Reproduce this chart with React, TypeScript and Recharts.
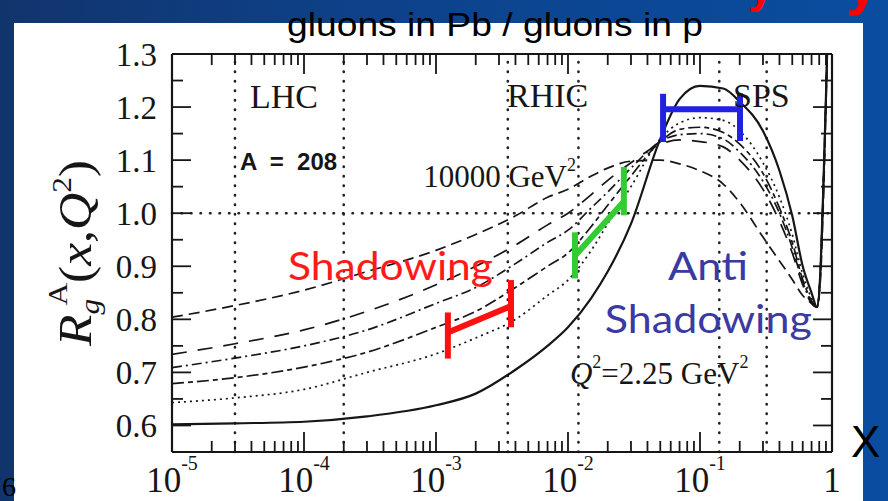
import React from "react";
import { LineChart, Line, XAxis, YAxis, ReferenceLine, ReferenceDot } from "recharts";

// Bjorken x sample points (log axis 1e-5 .. 1)
const xValues = [1e-5, 3e-5, 1e-4, 3e-4, 1e-3, 2e-3, 4e-3, 7e-3, 0.01, 0.015, 0.02, 0.03, 0.05, 0.07, 0.1, 0.15, 0.2, 0.3, 0.4, 0.5, 0.6, 0.7, 0.77, 0.82, 0.86, 0.9, 0.94];

// R_g^A(x,Q^2) for Pb, from Q^2 = 2.25 GeV^2 (solid) up to 10000 GeV^2 (dashed)
const rSolid = [0.602, 0.604, 0.607, 0.617, 0.638, 0.66, 0.705, 0.75, 0.785, 0.84, 0.89, 0.98, 1.14, 1.215, 1.24, 1.235, 1.21, 1.155, 1.08, 0.995, 0.9, 0.85, 0.823, 0.9, 1.05, 1.22, 1.4];
const rDotted = [0.643, 0.652, 0.668, 0.7, 0.735, 0.765, 0.8, 0.845, 0.874, 0.93, 0.98, 1.05, 1.14, 1.17, 1.18, 1.175, 1.155, 1.095, 1.03, 0.96, 0.885, 0.84, 0.823, 0.9, 1.05, 1.22, 1.4];
const rLongShort = [0.679, 0.69, 0.71, 0.738, 0.785, 0.815, 0.86, 0.9, 0.925, 0.975, 1.015, 1.07, 1.135, 1.158, 1.162, 1.152, 1.13, 1.075, 1.01, 0.945, 0.875, 0.835, 0.823, 0.9, 1.05, 1.22, 1.4];
const rDashDot = [0.709, 0.727, 0.75, 0.78, 0.83, 0.86, 0.905, 0.945, 0.968, 1.01, 1.04, 1.085, 1.135, 1.148, 1.15, 1.14, 1.115, 1.06, 1.0, 0.935, 0.87, 0.832, 0.823, 0.9, 1.05, 1.22, 1.4];
const rLongDash = [0.734, 0.754, 0.78, 0.815, 0.865, 0.9, 0.94, 0.978, 1.0, 1.035, 1.062, 1.095, 1.13, 1.138, 1.135, 1.125, 1.1, 1.045, 0.985, 0.925, 0.865, 0.83, 0.823, 0.9, 1.05, 1.22, 1.4];
const rDashed = [0.804, 0.826, 0.855, 0.89, 0.93, 0.96, 0.995, 1.03, 1.045, 1.07, 1.085, 1.098, 1.1, 1.093, 1.08, 1.055, 1.02, 0.955, 0.91, 0.875, 0.845, 0.83, 0.823, 0.88, 1.02, 1.2, 1.4];

const decades = [1e-5, 1e-4, 1e-3, 1e-2, 1e-1, 1];
const yTicks = [0.55, 0.6, 0.65, 0.7, 0.75, 0.8, 0.85, 0.9, 0.95, 1.0, 1.05, 1.1, 1.15, 1.2, 1.25, 1.3];
const regionBounds = [3e-5, 2e-4, 3.5e-3, 0.012, 0.14, 0.32];

// hand-drawn brackets on the slide: [x1, y1, x2, y2]
const redBracket = [[1.23e-3, 0.726, 1.23e-3, 0.813], [3.7e-3, 0.785, 3.7e-3, 0.874], [1.23e-3, 0.775, 3.7e-3, 0.825]];
const greenBracket = [[0.0113, 0.877, 0.0113, 0.964], [0.0265, 0.996, 0.0265, 1.087], [0.0113, 0.92, 0.0265, 1.022]];
const blueBracket = [[0.0525, 1.134, 0.0525, 1.225], [0.201, 1.136, 0.201, 1.226], [0.0525, 1.196, 0.201, 1.196]];

const xTicks = decades.slice(0, -1).flatMap((d) => [1, 2, 3, 4, 5, 6, 7, 8, 9].map((m) => d * m)).concat([1]);

const rows = xValues.map((x, i) => ({
  x,
  solid: rSolid[i],
  dotted: rDotted[i],
  longShort: rLongShort[i],
  dashDot: rDashDot[i],
  longDash: rLongDash[i],
  dashed: rDashed[i],
}));

const INK = "#161616";
const SERIF = "'Liberation Serif', 'Times New Roman', serif";
const SANS = "'Liberation Sans', Arial, sans-serif";
const COMIC = "'Comic Sans MS', Lato, sans-serif";

const isDecade = (v: number) => Math.abs(Math.log10(v) - Math.round(Math.log10(v))) < 1e-6;
const isTenth = (v: number) => Math.abs(v * 10 - Math.round(v * 10)) < 1e-6;

function BottomTick({ x, y, payload }: any) {
  const v = payload.value;
  const major = isDecade(v);
  const e = Math.round(Math.log10(v));
  return (
    <g>
      <line x1={x} x2={x} y1={y} y2={y - (major ? 20 : 11)} stroke={INK} strokeWidth={1.8} />
      {major && (
        <text x={x} y={y + 40} textAnchor="middle" fontFamily={SERIF} fontSize={35} fill={INK}>
          {e === 0 ? "1" : "10"}
          {e !== 0 && (
            <tspan fontSize={20} dy={-22}>
              {e}
            </tspan>
          )}
        </text>
      )}
    </g>
  );
}

function TopTick({ x, y, payload }: any) {
  const major = isDecade(payload.value);
  return <line x1={x} x2={x} y1={y} y2={y + (major ? 20 : 11)} stroke={INK} strokeWidth={1.8} />;
}

function LeftTick({ x, y, payload }: any) {
  const v = payload.value;
  const major = isTenth(v);
  return (
    <g>
      <line x1={x} x2={x + (major ? 19 : 11)} y1={y} y2={y} stroke={INK} strokeWidth={1.8} />
      {major && (
        <text x={x - 15} y={y + 12} textAnchor="end" fontFamily={SERIF} fontSize={33} fill={INK}>
          {v.toFixed(1)}
        </text>
      )}
    </g>
  );
}

function RightTick({ x, y, payload }: any) {
  const major = isTenth(payload.value);
  return <line x1={x} x2={x - (major ? 19 : 11)} y1={y} y2={y} stroke={INK} strokeWidth={1.8} />;
}

function YTitle(props: any) {
  const vb = props.viewBox;
  const cx = vb.x + 19;
  const cy = vb.y + vb.height / 2;
  return (
    <text
      transform={`translate(${cx},${cy}) rotate(-90) scale(1.12,1)`}
      textAnchor="middle"
      fontFamily={SERIF}
      fontSize={46}
      fill={INK}
    >
      <tspan fontStyle="italic">R</tspan>
      <tspan fontStyle="italic" fontSize={28} dy={8}>g</tspan>
      <tspan fontSize={28} dx={-6} dy={-32}>A</tspan>
      <tspan dy={24}>(</tspan>
      <tspan fontStyle="italic">x</tspan>
      <tspan>,</tspan>
      <tspan fontStyle="italic">Q</tspan>
      <tspan fontSize={28} dy={-20}>2</tspan>
      <tspan dy={20}>)</tspan>
    </text>
  );
}

// text placed at a data point (left end of the baseline)
function note(key: string, x: number, y: number, body: (px: number, py: number) => React.ReactNode) {
  return (
    <ReferenceDot
      key={key}
      x={x}
      y={y}
      r={0}
      fill="none"
      stroke="none"
      ifOverflow="visible"
      label={(p: any) => <g>{body(p.viewBox.x, p.viewBox.y)}</g>}
    />
  );
}

function bracket(name: string, segs: number[][], color: string) {
  return segs.map((s, i) => (
    <ReferenceLine
      key={name + i}
      segment={[{ x: s[0], y: s[1] }, { x: s[2], y: s[3] }]}
      stroke={color}
      strokeWidth={6}
      ifOverflow="visible"
    />
  ));
}

export default function App() {
  const dotted = { stroke: "#222", strokeWidth: 2.6, strokeDasharray: "0.5 9", strokeLinecap: "round" as const };
  return (
    <div
      style={{
        position: "absolute",
        left: 0,
        top: 0,
        width: 888,
        height: 501,
        overflow: "hidden",
        background: "linear-gradient(90deg, #12346d 0%, #0d4189 40%, #0a4da0 100%)",
      }}
    >
      <div style={{ position: "absolute", left: 14, top: 23, width: 849, height: 478, background: "#fff" }} />
      <div style={{ position: "absolute", left: 0, top: 0 }}>
        <LineChart width={888} height={501} data={rows} margin={{ top: 44, right: 46, bottom: 9, left: 72 }}>
          <XAxis
            dataKey="x"
            type="number"
            scale="log"
            domain={[1e-5, 1]}
            allowDataOverflow
            ticks={xTicks}
            interval={0}
            height={40}
            tickSize={0}
            tickMargin={0}
            tick={<BottomTick />}
            axisLine={{ stroke: INK, strokeWidth: 2.2 }}
          />
          <XAxis
            xAxisId="top"
            orientation="top"
            dataKey="x"
            type="number"
            scale="log"
            domain={[1e-5, 1]}
            allowDataOverflow
            ticks={xTicks}
            interval={0}
            height={10}
            tickSize={0}
            tickMargin={0}
            tick={<TopTick />}
            axisLine={{ stroke: INK, strokeWidth: 2.2 }}
          />
          <YAxis
            type="number"
            domain={[0.55, 1.3]}
            allowDataOverflow
            ticks={yTicks}
            interval={0}
            width={100}
            tickSize={0}
            tickMargin={0}
            tick={<LeftTick />}
            axisLine={{ stroke: INK, strokeWidth: 2.2 }}
            label={(p: any) => <YTitle {...p} />}
          />
          <YAxis
            yAxisId="right"
            orientation="right"
            type="number"
            domain={[0.55, 1.3]}
            allowDataOverflow
            ticks={yTicks}
            interval={0}
            width={10}
            tickSize={0}
            tickMargin={0}
            tick={<RightTick />}
            axisLine={{ stroke: INK, strokeWidth: 2.2 }}
          />

          {regionBounds.map((b) => (
            <ReferenceLine key={"v" + b} x={b} {...dotted} />
          ))}
          <ReferenceLine y={1.0} {...dotted} />

          <Line dataKey="dashed" type="monotone" stroke={INK} strokeWidth={1.7} strokeDasharray="11 6" dot={false} isAnimationActive={false} />
          <Line dataKey="longDash" type="monotone" stroke={INK} strokeWidth={1.7} strokeDasharray="15 11" dot={false} isAnimationActive={false} />
          <Line dataKey="dashDot" type="monotone" stroke={INK} strokeWidth={1.7} strokeDasharray="10 4 2 4" dot={false} isAnimationActive={false} />
          <Line dataKey="longShort" type="monotone" stroke={INK} strokeWidth={1.7} strokeDasharray="12 4 5 4" dot={false} isAnimationActive={false} />
          <Line dataKey="dotted" type="monotone" stroke={INK} strokeWidth={1.7} strokeDasharray="2 4" dot={false} isAnimationActive={false} />
          <Line dataKey="solid" type="monotone" stroke={INK} strokeWidth={2.2} dot={false} isAnimationActive={false} />

          {note("lhc", 3.9e-5, 1.198, (px, py) => (
            <text x={px} y={py} fontFamily={SERIF} fontSize={34} fill={INK}>LHC</text>
          ))}
          {note("rhic", 3.45e-3, 1.2, (px, py) => (
            <text x={px} y={py} fontFamily={SERIF} fontSize={34} fill={INK}>RHIC</text>
          ))}
          {note("sps", 0.178, 1.2, (px, py) => (
            <text x={px} y={py} fontFamily={SERIF} fontSize={34} fill={INK}>SPS</text>
          ))}
          {note("a", 3.27e-5, 1.081, (px, py) => (
            <text x={px} y={py} fontFamily={SANS} fontWeight="bold" fontSize={24} fill={INK} style={{ whiteSpace: "pre" }}>
              {"A  =  208"}
            </text>
          ))}
          {note("q2hi", 8e-4, 1.049, (px, py) => (
            <text x={px} y={py} fontFamily={SERIF} fontSize={31} fill={INK}>
              10000 GeV<tspan fontSize={18} dy={-16}>2</tspan>
            </text>
          ))}
          {note("q2lo", 0.01035, 0.679, (px, py) => (
            <text x={px} y={py} fontFamily={SERIF} fontSize={31} fill={INK}>
              <tspan fontStyle="italic">Q</tspan>
              <tspan fontSize={18} dy={-16}>2</tspan>
              <tspan dy={16}>=2.25 GeV</tspan>
              <tspan fontSize={18} dy={-16}>2</tspan>
            </text>
          ))}

          {bracket("red", redBracket, "#ff1010")}
          {bracket("green", greenBracket, "#33cc33")}
          {bracket("blue", blueBracket, "#2121e0")}

          {note("shadow", 7.57e-5, 0.874, (px, py) => (
            <text x={px} y={py} fontFamily={COMIC} fontSize={38} fill="#ff1a1a" textLength={205} lengthAdjust="spacingAndGlyphs">
              Shadowing
            </text>
          ))}
          {note("anti", 0.0573, 0.874, (px, py) => (
            <text x={px} y={py} fontFamily={COMIC} fontSize={38} fill="#3a3aa2" textLength={80} lengthAdjust="spacingAndGlyphs">
              Anti
            </text>
          ))}
          {note("antishadow", 0.019, 0.775, (px, py) => (
            <text x={px} y={py} fontFamily={COMIC} fontSize={38} fill="#3a3aa2" textLength={207} lengthAdjust="spacingAndGlyphs">
              Shadowing
            </text>
          ))}
        </LineChart>
      </div>
      <svg width={888} height={501} style={{ position: "absolute", left: 0, top: 0, pointerEvents: "none" }}>
        <text x={495} y={36} textAnchor="middle" fontFamily={SANS} fontSize={34} fill="#000" textLength={416} lengthAdjust="spacingAndGlyphs">
          gluons in Pb / gluons in p
        </text>
        <text x={851} y={457} fontFamily={SANS} fontSize={44} fill="#000">X</text>
        <text x={2} y={496} fontFamily={SERIF} fontSize={28} fill="#000">6</text>
        <text x={748} y={2} fontFamily={SANS} fontWeight="bold" fontSize={46} fill="#ff0000">y</text>
        <text x={846} y={4} fontFamily={SANS} fontWeight="bold" fontSize={58} fill="#ff0000">y</text>
      </svg>
    </div>
  );
}
